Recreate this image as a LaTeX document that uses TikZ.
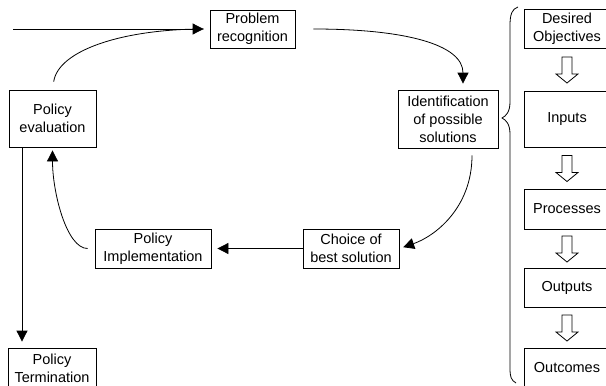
\documentclass[tikz,border=0pt]{standalone}
\usepackage{fontspec}
\setmainfont{Liberation Sans}
\usetikzlibrary{arrows.meta,calc}
\tikzstyle{diagram} = [x = 1pt, y = -1pt, line width = .8pt]
\newcommand{\stageFont}{\fontsize{14.5}{18}\selectfont}
\tikzstyle{stageBox} = [draw, align=center, inner sep=0pt, font=\stageFont]
\tikzstyle{flowArrow} = [-{Triangle[length=11pt, width=11pt]}]
\newcommand{\stage}[5]{\node [stageBox, minimum width=#4pt, minimum height=#5pt] (#1) at (#2) {#3};}
\newcommand{\hollowArrow}[2]{
  \coordinate (#1Mid) at ($(#1.south)!.5!(#2.north)$);
  \draw ($(#1Mid) + (-5,-12.5)$) -- ++(10,0) -- ++(0,17) -- ++(6,0) -- ++(-11,9) -- ++(-11,-9) -- ++(6,0) -- cycle;
}

\begin{document}
\begin{tikzpicture}[diagram]
  \useasboundingbox (0,0) rectangle (606,386);
  % policy cycle
  \stage{problem}{252.5,29}{Problem\\recognition}{85}{38}
  \stage{identification}{448,119}{Identification\\of possible\\solutions}{100}{58}
  \stage{choice}{351,248.5}{Choice of\\best solution}{96}{39}
  \stage{implementation}{153,248.5}{Policy\\Implementation}{116}{39}
  \stage{evaluation}{52.5,118.5}{Policy\\evaluation}{87}{57}
  \stage{termination}{52,368}{Policy\\Termination}{88}{40}

  \coordinate (entry) at (13,29);
  \draw [flowArrow, shorten >=6pt] (entry) -- (problem.west);
  \draw [shorten <=8pt, shorten >=6pt] (evaluation.north) .. controls +(6,-40) and +(-85,0) .. (problem.west);
  \draw [flowArrow, shorten <=18pt, shorten >=6pt] (problem.east) .. controls +(110,0) and +(0,-45) .. ([xshift=15pt]identification.north);
  \draw [flowArrow, shorten <=7pt, shorten >=4pt] ([xshift=24pt]identification.south) .. controls +(0,60) and +(35,-12) .. (choice.east);
  \draw [flowArrow, shorten >=6pt] (choice.west) -- (implementation.east);
  \draw [flowArrow, shorten <=7pt, shorten >=3pt] (implementation.west) .. controls +(-28,0) and +(0,45) .. (evaluation.south);
  \draw [flowArrow, shorten >=6pt] ([xshift=-30.5pt]evaluation.south) -- ([xshift=-30pt]termination.north);

  % brace
  \draw (518,7) .. controls (512,9) and (510,14) .. (510,26) -- (510,102) .. controls (510,112) and (506,116) .. (502,118)
        .. controls (506,120) and (510,124) .. (510,134) -- (510,368) .. controls (510,377) and (511,380) .. (516,383);

  % logic model
  \stage{objectives}{567,28.5}{Desired\\Objectives}{86}{39}
  \stage{inputs}{567,119}{Inputs}{86}{56}
  \stage{processes}{567,209}{Processes}{86}{40}
  \stage{outputs}{567,287.5}{Outputs}{86}{39}
  \stage{outcomes}{567,368}{Outcomes}{86}{40}
  \hollowArrow{objectives}{inputs}
  \hollowArrow{inputs}{processes}
  \hollowArrow{processes}{outputs}
  \hollowArrow{outputs}{outcomes}
\end{tikzpicture}
\end{document}
